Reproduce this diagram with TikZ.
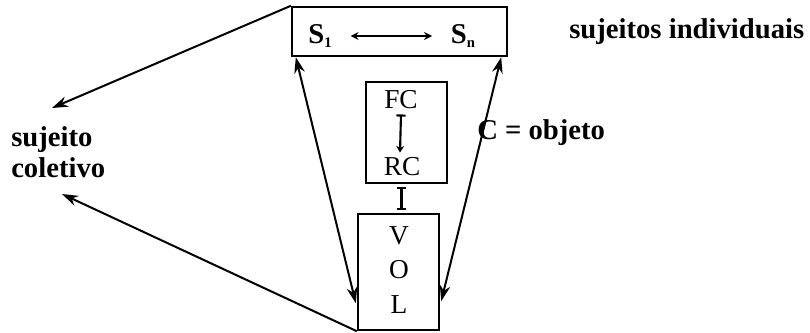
\documentclass[tikz,border=0pt]{standalone}
\usepackage{fontspec}
\setmainfont{Liberation Serif}
\usetikzlibrary{arrows.meta,calc}
\begin{document}
\begin{tikzpicture}[x=0.75pt,y=-0.75pt,
  box/.style={draw,line width=1.8pt,inner sep=0pt},
  lbl/.style={font=\fontsize{21.5}{25}\selectfont\bfseries,inner sep=0pt},
  sym/.style={font=\fontsize{20.5}{24}\selectfont,inner sep=0pt},
  con/.style={line width=1.5pt,{Stealth[length=12pt,width=8pt]}-{Stealth[length=12pt,width=8pt]}},
  one/.style={line width=1.5pt,-{Stealth[length=12pt,width=8pt]}},
  small/.style={line width=1.6pt}]
\useasboundingbox (0,0) rectangle (810,332);
% boxes
\node[box,minimum width=161.25pt,minimum height=36.75pt] (top) at (399.5,31.5) {};
\node[box,minimum width=60.75pt,minimum height=75.75pt] (fr) at (406.5,132.5) {};
\node[box,minimum width=60.75pt,minimum height=87pt] (vol) at (398.5,272) {};
% texts
\node[lbl] (s1) at (320,36) {S\raisebox{-3pt}{\fontsize{11}{12}\selectfont 1}};
\node[lbl] (sn) at (463,36) {S\raisebox{-3pt}{\fontsize{11}{12}\selectfont n}};
\node[sym] (fc) at (401,100) {FC};
\node[sym] (rc) at (402,167) {RC};
\node[sym] (v) at (399,236) {V};
\node[sym] (o) at (399,270) {O};
\node[sym] (l) at (399,305) {L};
\node[lbl,anchor=west] (ind) at (569,32) {sujeitos individuais};
\node[lbl,anchor=west] (obj) at (477,133) {C = objeto};
\node[lbl,anchor=west,align=left] (col) at (11,152) {sujeito\\[-2pt]coletivo};
% connectors
\draw[line width=1.5pt,{Stealth[length=6pt,width=6pt]}-{Stealth[length=6pt,width=6pt]},shorten <=14pt,shorten >=14pt] (s1) -- (sn);
\draw[small,{Bar[width=7pt]}-{Stealth[length=5pt,width=6pt]}] ($(fc.south)+(0,5)$) -- ($(rc.north)+(-2,-5)$);
\draw[small,{Bar[width=7pt]}-{Bar[width=7pt]}] ($(fr.south)+(-5,3)$) -- ($(vol.north)+(3,-3)$);
\draw[con] ($(top.south west)+(5,0)$) -- ($(vol.south west)+(-1,-28)$);
\draw[con] ($(top.south east)+(-7,0)$) -- ($(vol.south east)+(1,-30)$);
\coordinate (c1) at (52,108);
\coordinate (c2) at (62,194);
\draw[one] (top.north west) -- (c1);
\draw[one] (vol.south west) -- (c2);
\end{tikzpicture}
\end{document}
